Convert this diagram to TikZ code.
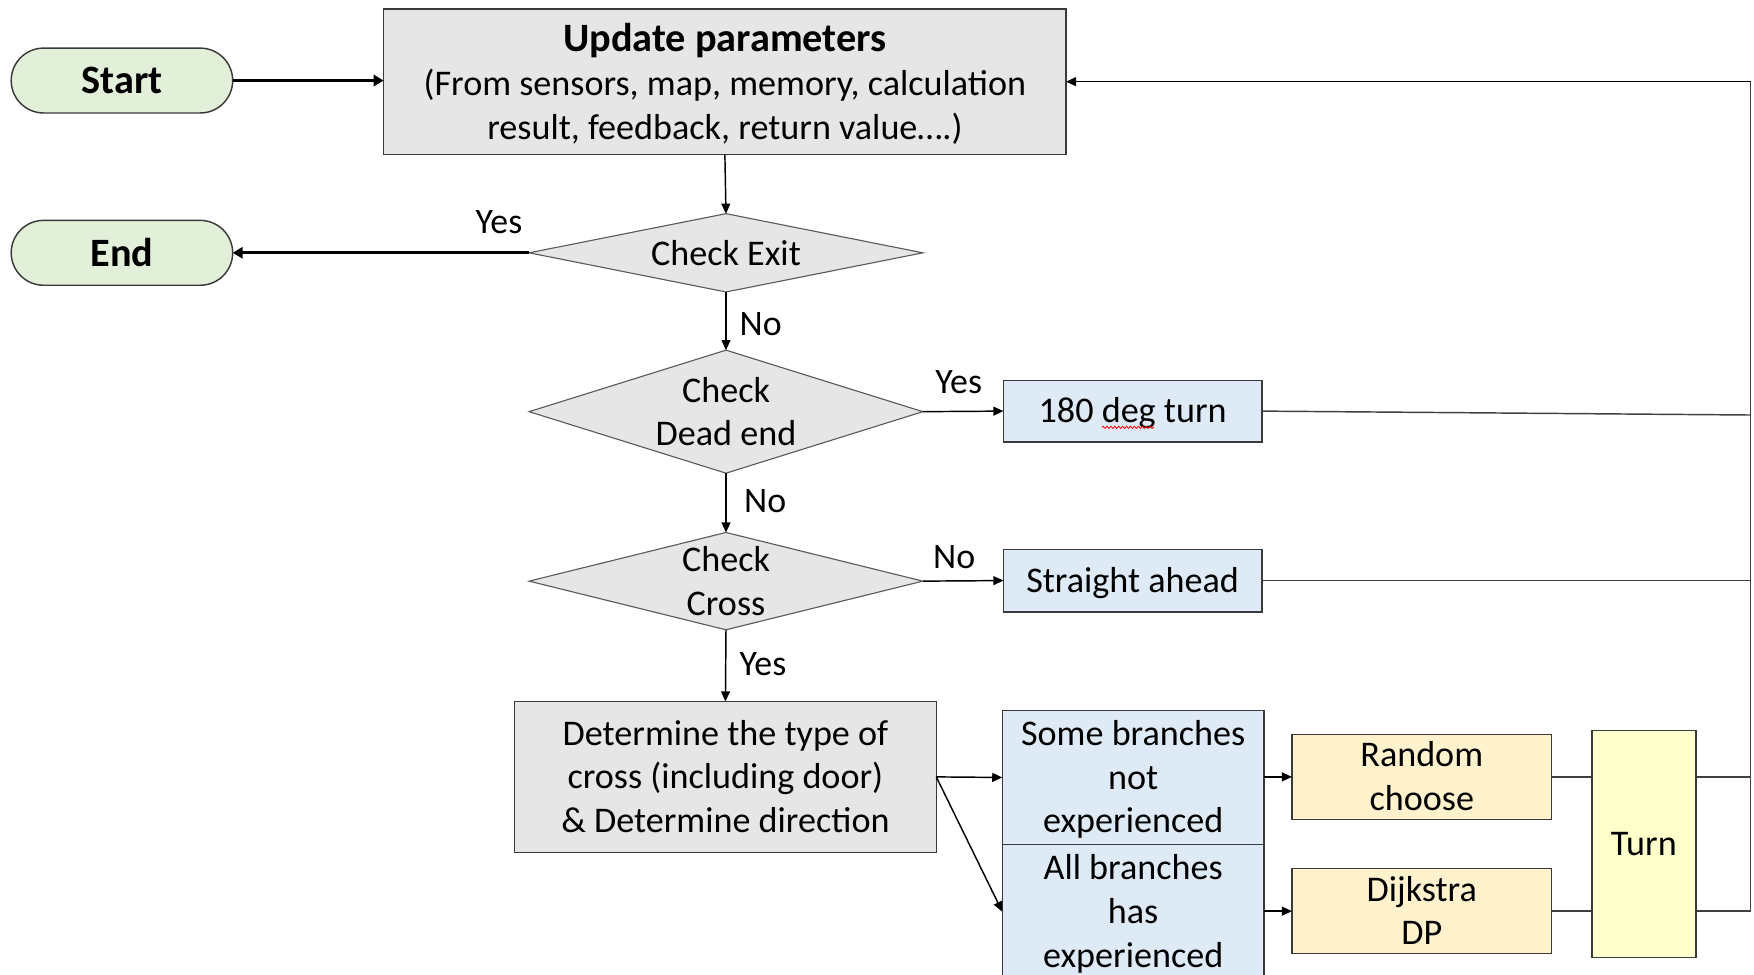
\documentclass[tikz,border=0pt]{standalone}
\usepackage{fontspec}
\setmainfont{Carlito}
\usetikzlibrary{shapes.geometric,arrows.meta,decorations.pathmorphing}

\definecolor{termfill}{HTML}{E2F0D9}
\definecolor{grayfill}{HTML}{E7E6E6}
\definecolor{bluefill}{HTML}{DEEBF7}
\definecolor{orangefill}{HTML}{FFF2CC}
\definecolor{yellowfill}{HTML}{FFFFCC}
\definecolor{edge}{HTML}{3A3A3A}
\definecolor{diaedge}{HTML}{5A5A5A}
\definecolor{wire}{HTML}{404040}

% invisible strut giving a text line a fixed ascent and descent
\newcommand\linestrut{\rule[-0.25em]{0pt}{1.15em}}

\begin{document}
\begin{tikzpicture}[x=1pt,y=-1pt,
  font=\fontsize{32.3}{39}\selectfont,
  every node/.style={inner sep=0pt, outer sep=0pt},
  term/.style={draw=edge, fill=termfill, line width=1.3pt, rounded corners=29pt,
    minimum width=198pt, minimum height=58pt, font=\fontsize{36}{40}\selectfont\bfseries},
  procbox/.style={draw=edge, line width=1.3pt, align=center},
  graybox/.style={procbox, fill=grayfill},
  bluebox/.style={procbox, fill=bluefill},
  orangebox/.style={procbox, fill=orangefill},
  yellowbox/.style={procbox, fill=yellowfill},
  decision/.style={diamond, draw=diaedge, fill=grayfill, line width=1pt},
  dtext/.style={align=center},
  lbl/.style={font=\fontsize{32}{38}\selectfont},
  link/.style={draw=black, line width=1.3pt, -{Triangle[length=9pt,width=8pt]}},
  biglink/.style={draw=black, line width=3pt, -{Triangle[length=9pt,width=10pt]}},
  wireline/.style={draw=wire, line width=1.3pt},
]
\useasboundingbox (0,0) rectangle (1568,871);

% terminals
\node[term] (start) at (109,72) {Start};
\node[term] (endn) at (109,226) {End};

% parameter update
\node[graybox, minimum width=610pt, minimum height=130pt] (update) at (648,73)
  {{\fontsize{36}{40}\selectfont\bfseries\linestrut Update parameters}\\[1pt]
   (From sensors, map, memory, calculation\\\linestrut result, feedback, return value….)};

% decisions
\node[decision, minimum width=352pt, minimum height=70pt] (exit) at (649,226) {};
\node[dtext] (exitt) at (exit) {Check Exit};
\node[decision, minimum width=352pt, minimum height=110pt] (dead) at (649,368) {};
\node[dtext] (deadt) at (dead) {Check\\Dead end};
\node[decision, minimum width=352pt, minimum height=87pt] (cross) at (649,519.5) {};
\node[dtext] (crosst) at (cross) {Check\\Cross};

% actions
\node[bluebox, minimum width=231pt, minimum height=55pt] (uturn) at (1012.5,367.5) {\linestrut 180 deg turn};
\node[bluebox, minimum width=231pt, minimum height=56pt] (straight) at (1012.5,519) {\linestrut Straight ahead};
\node[graybox, minimum width=377pt, minimum height=135pt] (determine) at (648.5,694.5)
  {\linestrut Determine the type of\\cross (including door)\\\linestrut\& Determine direction};
\node[bluebox, minimum width=234pt, minimum height=120pt] (some) at (1013,695)
  {\linestrut Some branches\\not\\\linestrut experienced};
\node[bluebox, minimum width=234pt, minimum height=120pt] (all) at (1013,815)
  {\linestrut All branches\\has\\\linestrut experienced};
\node[orangebox, minimum width=232pt, minimum height=73pt] (random) at (1271,694.5)
  {\linestrut Random\\\linestrut choose};
\node[orangebox, minimum width=232pt, minimum height=73pt] (dijkstra) at (1271,814.5)
  {\linestrut Dijkstra\\\linestrut DP};
\node[yellowbox, minimum width=93pt, minimum height=203pt] (turn) at (1469.5,754.5) {\linestrut Turn};

% spell-check squiggle under "deg"
\draw[red, line width=0.7pt, decorate, decoration={snake, amplitude=1pt, segment length=3.5pt}]
  (985,382) -- (1032,382);

% feedback rail
\coordinate (railtop) at (1565,73);
\coordinate (railuturn) at (1565,371);
\coordinate (railbot) at (1565,814.5);

% connectors
\draw[biglink] (start.east) -- (update.west |- start.east);
\draw[biglink] (exit.west) -- (endn.east);
\draw[link] (update.south) -- (exit.north);
\draw[link] (exit.south) -- (dead.north);
\draw[link] (dead.south) -- (cross.north);
\draw[link] (cross.south) -- (determine.north);
\draw[link] (dead.east) -- (uturn.west);
\draw[link] (cross.east) -- (straight.west);
\draw[link] (determine.east) -- (some.west);
\draw[link] (determine.east) -- (all.west);
\draw[link] (some.east |- random.west) -- (random.west);
\draw[link] (all.east |- dijkstra.west) -- (dijkstra.west);
\draw[wireline] (random.east) -- (turn.west |- random.east);
\draw[wireline] (dijkstra.east) -- (turn.west |- dijkstra.east);
\draw[wireline] (turn.east |- random.east) -- (railbot |- random.east);
\draw[wireline] (uturn.east) -- (railuturn);
\draw[wireline] (straight.east) -- (straight.east -| railtop);
\draw[wireline] (turn.east |- railbot) -- (railbot) -- (railtop);
\draw[link] (railtop) -- (update.east |- railtop);

% branch labels
\node[lbl] (lexit) at (446,199) {Yes};
\node[lbl] (lno1) at (680,290) {No};
\node[lbl] (lno2) at (684,448) {No};
\node[lbl] (lyes2) at (682,594) {Yes};
\node[lbl] (lyes1) at (857,342) {Yes};
\node[lbl] (lno3) at (853,498) {No};
\end{tikzpicture}
\end{document}
